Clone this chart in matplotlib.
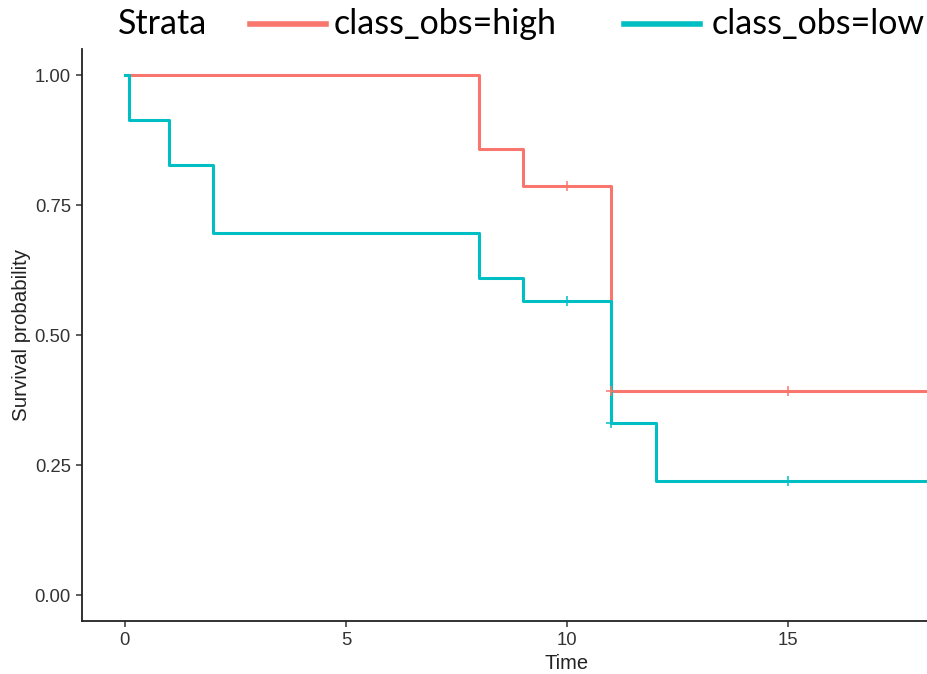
import matplotlib
matplotlib.use("Agg")
import matplotlib.pyplot as plt
from matplotlib.lines import Line2D

# ── data ─────────────────────────────────────────────────────────────────────
high_time = [0, 8, 9, 11, 19.4]
high_surv = [1.0, 0.857, 0.786, 0.393, 0.393]
high_cens_t = [10, 11, 15]
high_cens_s = [0.786, 0.393, 0.393]

low_time = [0, 0.1, 1, 2, 8, 9, 11, 12, 19.4]
low_surv = [1.0, 0.913, 0.826, 0.696, 0.609, 0.565, 0.330, 0.220, 0.220]
low_cens_t = [10, 11, 15]
low_cens_s = [0.565, 0.330, 0.220]

x_ticks = [0, 5, 10, 15]
y_ticks = [0.00, 0.25, 0.50, 0.75, 1.00]

RED = "#F8766D"
CYAN = "#00BFC4"

# ── figure ───────────────────────────────────────────────────────────────────
fig = plt.figure(figsize=(9.27, 6.74), dpi=100)
ax = fig.add_axes([82 / 927, 53 / 674, 1 - 82 / 927, (621 - 49) / 674])

ax.step(high_time, high_surv, where="post", color=RED, lw=2.2)
ax.step(low_time, low_surv, where="post", color=CYAN, lw=2.2)
ax.plot(high_cens_t, high_cens_s, "+", color=RED, ms=7, mew=1.1)
ax.plot(low_cens_t, low_cens_s, "+", color=CYAN, ms=7, mew=1.1)

ax.set_xlim(-0.97, 18.14)
ax.set_ylim(-0.05, 1.05)
ax.set_xticks(x_ticks)
ax.set_yticks(y_ticks)
ax.set_yticklabels([f"{v:.2f}" for v in y_ticks])

for side in ("top", "right"):
    ax.spines[side].set_visible(False)
for side in ("left", "bottom"):
    ax.spines[side].set_linewidth(1.3)
    ax.spines[side].set_color("#222222")

ax.tick_params(direction="out", length=4, width=1.1, color="#333333",
               labelsize=13.3, labelcolor="#333333", pad=4)
for lab in ax.get_xticklabels() + ax.get_yticklabels():
    lab.set_family("Liberation Sans")

ax.set_xlabel("Time", fontsize=14.5, family="Liberation Sans", color="#222222")
ax.xaxis.set_label_coords((567 - 82) / (927 - 82), -0.058)
ax.set_ylabel("Survival probability", fontsize=14.8, family="Liberation Sans",
              color="#222222")
ax.yaxis.set_label_coords(-0.060, 0.5)

# ── legend across the top ────────────────────────────────────────────────────
ly = 1 - 24 / 674
fig.text(118 / 927, ly, "Strata", fontsize=24.5, family="Lato", va="center", ha="left")
fig.add_artist(Line2D([250 / 927, 326 / 927], [ly, ly], color=RED, lw=4,
                      transform=fig.transFigure))
fig.text(334 / 927, ly, "class_obs=high", fontsize=24.5, family="Lato", va="center", ha="left")
fig.add_artist(Line2D([624 / 927, 700 / 927], [ly, ly], color=CYAN, lw=4,
                      transform=fig.transFigure))
fig.text(712 / 927, ly, "class_obs=low", fontsize=24.5, family="Lato", va="center", ha="left")

fig.savefig("out.png", dpi=100)
